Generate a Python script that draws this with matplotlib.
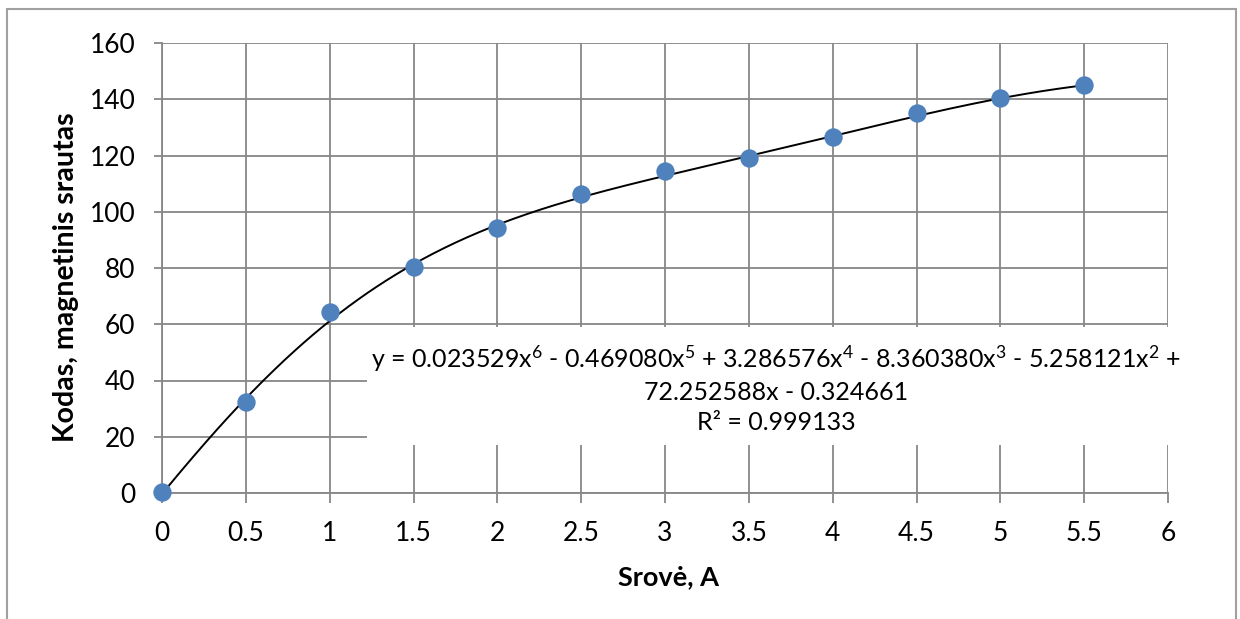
import numpy as np
import matplotlib
matplotlib.use("Agg")
import matplotlib.pyplot as plt
from matplotlib.patches import Rectangle

plt.rcParams['font.family'] = ['Lato', 'DejaVu Sans']
plt.rcParams['mathtext.fontset'] = 'custom'
plt.rcParams['mathtext.rm'] = 'Lato'
plt.rcParams['mathtext.it'] = 'Lato:italic'
plt.rcParams['mathtext.bf'] = 'Lato:bold'

current = [0, 0.5, 1, 1.5, 2, 2.5, 3, 3.5, 4, 4.5, 5, 5.5]
flux = [0.5, 32.4, 64.4, 80.4, 94.3, 106.3, 114.5, 119.1, 126.6, 135.1, 140.4, 145.1]
coeffs = [0.023529, -0.469080, 3.286576, -8.360380, -5.258121, 72.252588, -0.324661]
r2 = 0.999133
xticks = [0, 0.5, 1, 1.5, 2, 2.5, 3, 3.5, 4, 4.5, 5, 5.5, 6]
xticklabels = ['0', '0.5', '1', '1.5', '2', '2.5', '3', '3.5', '4', '4.5', '5', '5.5', '6']
yticks = [0, 20, 40, 60, 80, 100, 120, 140, 160]

W, H = 1240, 619
fig = plt.figure(figsize=(W / 100, H / 100), dpi=100)
ax = fig.add_axes([162 / W, 1 - 493 / H, (1168 - 162) / W, (493 - 43) / H])

grid_c = '#878787'
ax.set_xlim(0, 6)
ax.set_ylim(0, 160)
ax.set_xticks(xticks)
ax.set_xticklabels(xticklabels)
ax.set_yticks(yticks)
ax.grid(True, color=grid_c, linewidth=1.3, zorder=0)
ax.set_axisbelow(True)
for s in ['top', 'right']:
    ax.spines[s].set_visible(False)
for s in ['left', 'bottom']:
    ax.spines[s].set_color(grid_c)
    ax.spines[s].set_linewidth(1.3)
ax.tick_params(axis='both', direction='out', width=1.3, color=grid_c, labelsize=19)
ax.tick_params(axis='y', length=6, pad=13)
ax.tick_params(axis='x', length=7, pad=13)

xs = np.linspace(0, 5.5, 400)
ax.plot(xs, np.polyval(coeffs, xs), color='black', linewidth=1.4, zorder=3)
ax.scatter(current, flux, s=175, color='#4F81BD', zorder=4, linewidths=0, clip_on=False)

# trendline label box
fig.patches.append(Rectangle((367 / W, 1 - 445 / H), (1185 - 367) / W, (445 - 327) / H,
                             transform=fig.transFigure, facecolor='white',
                             edgecolor='none', zorder=5))
eq = ("y = 0.023529x$^{6}$ - 0.469080x$^{5}$ + 3.286576x$^{4}$ - 8.360380x$^{3}$ - 5.258121x$^{2}$ +\n"
      "72.252588x - 0.324661\n"
      f"R² = {r2:.6f}")
fig.text(776 / W, 1 - 389 / H, eq, ha='center', va='center', fontsize=18,
         linespacing=1.38, zorder=6, multialignment='center')

fig.text(668 / W, 1 - 577 / H, 'Srovė, A', fontsize=19.5, fontweight='bold',
         ha='center', va='center')
fig.text(66 / W, 1 - 277 / H, 'Kodas, magnetinis srautas', fontsize=20.5,
         fontweight='bold', ha='center', va='center', rotation=90)

fig.patches.append(Rectangle((7 / W, -0.05), (1236 - 7) / W, 1.05 - 9 / H,
                             transform=fig.transFigure, fill=False,
                             edgecolor='#a0a0a0', linewidth=1.5))

fig.savefig('out.png', dpi=100)
